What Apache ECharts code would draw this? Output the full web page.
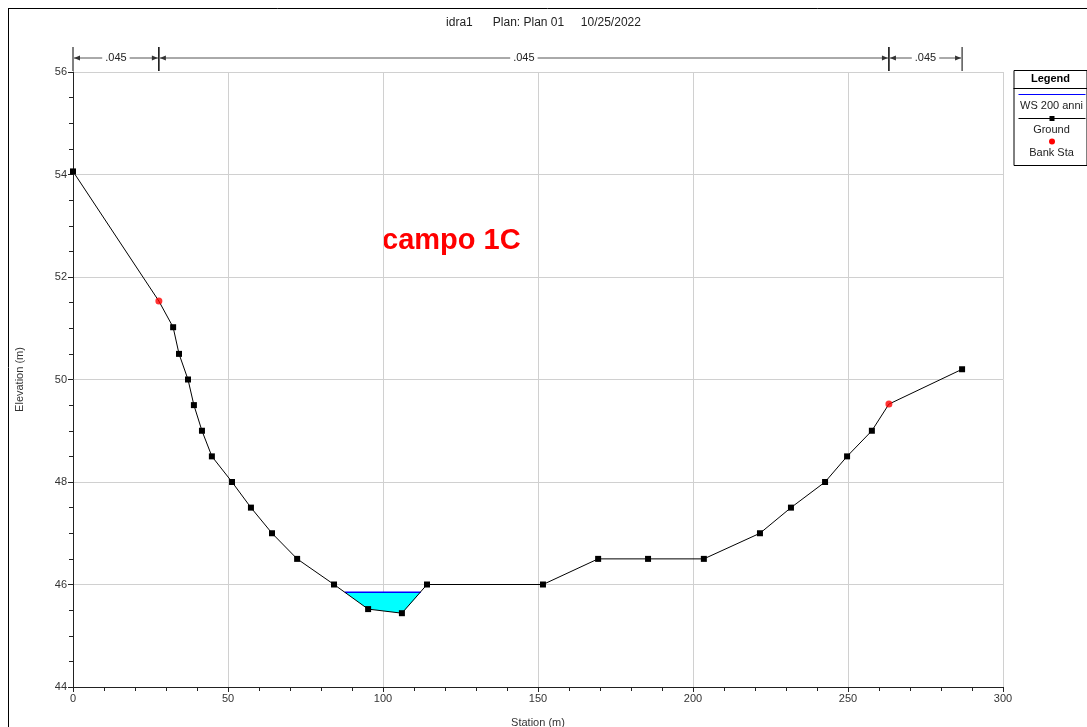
<!DOCTYPE html>
<html>
<head>
<meta charset="utf-8">
<script src="https://cdn.jsdelivr.net/npm/echarts@6/dist/echarts.min.js"></script>
<style>html,body{margin:0;padding:0;background:#fff;}#c{width:1087px;height:727px;}</style>
</head>
<body>
<div id="c"></div>
<script>
// Ground profile
var groundStation = [0, 27.7, 32.3, 34.2, 37.1, 39.0, 41.6, 44.8, 51.3, 57.4, 64.2, 72.3, 84.2, 95.2, 106.1, 114.2, 151.6, 169.4, 185.5, 203.5, 221.6, 231.6, 242.6, 249.7, 257.7, 263.2, 286.8];
var groundElev    = [54.06, 51.53, 51.02, 50.5, 50.0, 49.5, 49.0, 48.5, 48.0, 47.5, 47.0, 46.5, 46.0, 45.52, 45.44, 46.0, 46.0, 46.5, 46.5, 46.5, 47.0, 47.5, 48.0, 48.5, 49.0, 49.52, 50.2];
// Bank stations
var bankStation = [27.7, 263.2];
var bankElev    = [51.53, 49.52];
// Water surface (WS 200 anni)
var wsStation = [87.7, 112.2];
var wsElev = 45.85;
// Manning's n zones
var nStart = [0, 27.7, 263.2];
var nEnd   = [27.7, 263.2, 286.8];
var nValue = ['.045', '.045', '.045'];
// Axis ticks
var xMin = 0, xMax = 300, xStep = 50;
var yMin = 44, yMax = 56, yStep = 2;
var titleText = 'idra1      Plan: Plan 01     10/25/2022';
var noteText = 'campo 1C';

var FONT = 'Liberation Sans, Arial, sans-serif';

var groundData = groundStation.map(function (s, i) {
  var p = [s, groundElev[i]];
  if (bankStation.indexOf(s) >= 0) return { value: p, symbol: 'none' };
  return p;
});
var bankData = bankStation.map(function (s, i) { return [s, bankElev[i]]; });
// water polygon: WS left edge, ground points under water, WS right edge
var waterPoly = [[wsStation[0], wsElev]];
groundStation.forEach(function (s, i) { if (s > wsStation[0] && s < wsStation[1] && groundElev[i] < wsElev) waterPoly.push([s, groundElev[i]]); });
waterPoly.push([wsStation[1], wsElev]);
var nData = nStart.map(function (s, i) { return [s, nEnd[i]]; });

var chart = echarts.init(document.getElementById('c'));
chart.setOption({
  animation: false,
  backgroundColor: '#fff',
  title: {
    text: titleText, left: 'center', top: 12,
    textStyle: { fontFamily: FONT, fontSize: 12, fontWeight: 'normal', color: '#222' }
  },
  grid: { left: 73, right: 84, top: 72, bottom: 40, outerBoundsMode: 'none', containLabel: false },
  xAxis: {
    type: 'value', min: xMin, max: xMax, interval: xStep,
    name: 'Station (m)', nameLocation: 'middle', nameGap: 30,
    nameTextStyle: { fontFamily: FONT, fontSize: 11, color: '#333' },
    axisLine: { onZero: false, lineStyle: { color: '#222', width: 1 } },
    axisTick: { show: true, length: 5, lineStyle: { color: '#222' } },
    minorTick: { show: true, splitNumber: 5, length: 4, lineStyle: { color: '#222' } },
    axisLabel: { fontFamily: FONT, fontSize: 11, color: '#333', margin: 6 },
    splitLine: { show: true, lineStyle: { color: '#d0d0d0', width: 1 } }
  },
  yAxis: {
    type: 'value', min: yMin, max: yMax, interval: yStep,
    name: 'Elevation (m)', nameLocation: 'middle', nameGap: 48,
    nameTextStyle: { fontFamily: FONT, fontSize: 11, color: '#333' },
    axisLine: { onZero: false, lineStyle: { color: '#222', width: 1 } },
    axisTick: { show: true, length: 5, lineStyle: { color: '#222' } },
    minorTick: { show: true, splitNumber: 4, length: 4, lineStyle: { color: '#222' } },
    axisLabel: { fontFamily: FONT, fontSize: 11, color: '#333', margin: 6 },
    splitLine: { show: true, lineStyle: { color: '#d0d0d0', width: 1 } }
  },
  series: [
    {
      type: 'custom', name: 'water', z: 2,
      data: [0],
      renderItem: function (params, api) {
        var pts = waterPoly.map(function (p) { return api.coord(p); });
        return { type: 'polygon', shape: { points: pts }, style: { fill: '#00ffff', stroke: null } };
      }
    },
    {
      type: 'line', name: 'WS 200 anni', z: 3,
      data: wsStation.map(function (s) { return [s, wsElev]; }),
      symbol: 'none', lineStyle: { color: '#0000ff', width: 1.5 }
    },
    {
      type: 'line', name: 'Ground', z: 4,
      data: groundData,
      symbol: 'rect', symbolSize: 6,
      itemStyle: { color: '#000' },
      lineStyle: { color: '#000', width: 1 }
    },
    {
      type: 'scatter', name: 'Bank Sta', z: 5,
      data: bankData, symbol: 'circle', symbolSize: 7,
      itemStyle: { color: '#ff0000' }
    },
    {
      type: 'custom', name: 'manning', z: 6, clip: false,
      data: nData,
      encode: { x: [0, 1] },
      renderItem: function (params, api) {
        var x1 = api.coord([api.value(0), yMax])[0];
        var x2 = api.coord([api.value(1), yMax])[0];
        var y = 58, c = '#333';
        var mid = (x1 + x2) / 2;
        return {
          type: 'group',
          children: [
            { type: 'line', shape: { x1: x1, y1: 47, x2: x1, y2: 71 }, style: { stroke: '#000', lineWidth: 1 } },
            { type: 'line', shape: { x1: x2, y1: 47, x2: x2, y2: 71 }, style: { stroke: '#000', lineWidth: 1 } },
            { type: 'line', shape: { x1: x1 + 1, y1: y, x2: x2 - 1, y2: y }, style: { stroke: '#555', lineWidth: 1 } },
            { type: 'polygon', shape: { points: [[x1 + 1, y], [x1 + 7, y - 2.5], [x1 + 7, y + 2.5]] }, style: { fill: c } },
            { type: 'polygon', shape: { points: [[x2 - 1, y], [x2 - 7, y - 2.5], [x2 - 7, y + 2.5]] }, style: { fill: c } },
            { type: 'text', x: mid, y: y, style: { text: nValue[params.dataIndex], fontFamily: FONT, fontSize: 11, fill: '#222', align: 'center', verticalAlign: 'middle', backgroundColor: '#fff', padding: [0, 3] } }
          ]
        };
      }
    }
  ],
  graphic: [
    { type: 'line', shape: { x1: 8, y1: 8.5, x2: 1087, y2: 8.5 }, style: { stroke: '#000', lineWidth: 1 } },
    { type: 'line', shape: { x1: 8.5, y1: 8, x2: 8.5, y2: 727 }, style: { stroke: '#000', lineWidth: 1 } },
    { type: 'text', left: 382, top: 226, style: { text: noteText, fontFamily: FONT, fontSize: 29, fontWeight: 'bold', fill: '#ff0000' } },
    { type: 'group', left: 1011, top: 70, children: [
      { type: 'rect', shape: { x: 0.5, y: 0.5, width: 73, height: 95 }, style: { fill: '#fff', stroke: '#000', lineWidth: 1 } },
      { type: 'text', x: 37, y: 9, style: { text: 'Legend', fontFamily: FONT, fontSize: 11, fontWeight: 'bold', fill: '#000', align: 'center', verticalAlign: 'middle' } },
      { type: 'line', shape: { x1: 0, y1: 18.5, x2: 74, y2: 18.5 }, style: { stroke: '#000', lineWidth: 1 } },
      { type: 'line', shape: { x1: 5, y1: 24.5, x2: 72, y2: 24.5 }, style: { stroke: '#0000ff', lineWidth: 1.2 } },
      { type: 'text', x: 38, y: 36, style: { text: 'WS 200 anni', fontFamily: FONT, fontSize: 11, fill: '#222', align: 'center', verticalAlign: 'middle' } },
      { type: 'line', shape: { x1: 5, y1: 48.5, x2: 72, y2: 48.5 }, style: { stroke: '#000', lineWidth: 1 } },
      { type: 'rect', shape: { x: 36, y: 46, width: 5, height: 5 }, style: { fill: '#000' } },
      { type: 'text', x: 38, y: 60, style: { text: 'Ground', fontFamily: FONT, fontSize: 11, fill: '#222', align: 'center', verticalAlign: 'middle' } },
      { type: 'circle', shape: { cx: 38.5, cy: 71.5, r: 3 }, style: { fill: '#ff0000' } },
      { type: 'text', x: 38, y: 83, style: { text: 'Bank Sta', fontFamily: FONT, fontSize: 11, fill: '#222', align: 'center', verticalAlign: 'middle' } }
    ] }
  ]
});
</script>
</body>
</html>
